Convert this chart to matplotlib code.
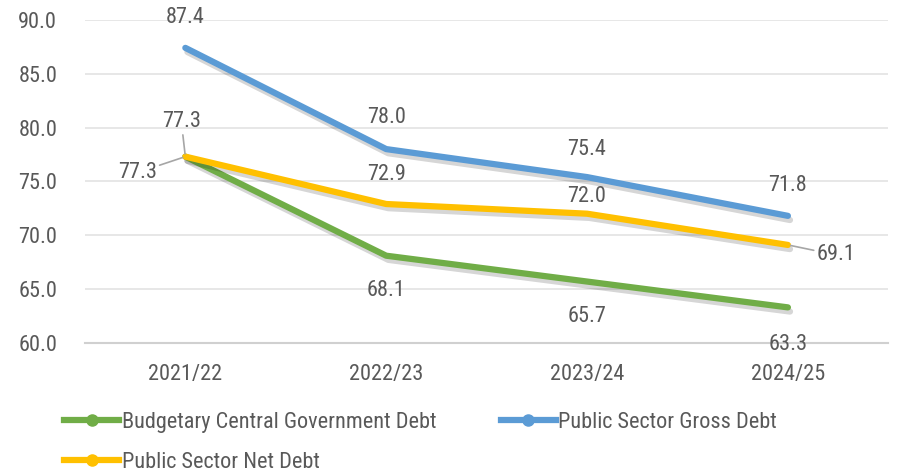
import matplotlib.pyplot as plt
import matplotlib.patheffects as pe
from matplotlib.lines import Line2D

# data
years = ["2021/22", "2022/23", "2023/24", "2024/25"]
bcg_debt = [77.3, 68.1, 65.7, 63.3]
gross_debt = [87.4, 78.0, 75.4, 71.8]
net_debt = [77.3, 72.9, 72.0, 69.1]
series_names = ["Budgetary Central Government Debt", "Public Sector Gross Debt", "Public Sector Net Debt"]

plt.rcParams['font.family'] = ["Roboto Condensed", 'DejaVu Sans']

GREEN = "#70AD47"
BLUE = "#5B9BD5"
YELLOW = "#FFC000"
TXT = "#595959"
FS = 16

fig = plt.figure(figsize=(9.13, 4.73), dpi=100)
ax = fig.add_axes([0.093, 0.275, 0.88, 0.683])

x = range(len(years))
shadow = [pe.SimpleLineShadow(offset=(1.5, -3), shadow_color="#000000", alpha=0.16), pe.Normal()]
for vals, col in [(bcg_debt, GREEN), (gross_debt, BLUE), (net_debt, YELLOW)]:
    ax.plot(x, vals, color=col, lw=4.5, solid_capstyle="round", solid_joinstyle="round",
            path_effects=shadow, zorder=3)

ax.set_xlim(-0.5, 3.5)
ax.set_ylim(60, 90)
ax.set_yticks([60, 65, 70, 75, 80, 85, 90])
ax.set_yticklabels([f"{v:.1f}" for v in [60, 65, 70, 75, 80, 85, 90]])
ax.set_xticks(list(x))
ax.set_xticklabels(years)
ax.tick_params(axis="both", length=0, labelsize=FS, colors=TXT)
ax.tick_params(axis="y", pad=20)
ax.tick_params(axis="x", pad=15)
ax.grid(axis="y", color="#E3E3E3", lw=1.2)
ax.set_axisbelow(True)
for s in ["top", "right", "left"]:
    ax.spines[s].set_visible(False)
ax.spines["bottom"].set_color("#D0D0D0")
ax.spines["bottom"].set_linewidth(1.5)


def lab(xi, yi, dx, dy, ha="center", arrow=False):
    kw = {}
    if arrow:
        kw["arrowprops"] = dict(arrowstyle="-", color="#A6A6A6", lw=1.2, shrinkA=0, shrinkB=2)
    ax.annotate(f"{yi:.1f}", (xi, yi), xytext=(dx, dy), textcoords="offset pixels",
                ha=ha, va="center", fontsize=FS, color=TXT, annotation_clip=False, **kw)


# blue labels above
lab(0, gross_debt[0], 0, 30)
lab(1, gross_debt[1], 0, 32)
lab(2, gross_debt[2], 0, 28)
lab(3, gross_debt[3], 0, 30)
# green labels below
lab(0, bcg_debt[0], -48, -16, arrow=True)
lab(1, bcg_debt[1], 0, -35)
lab(2, bcg_debt[2], 0, -35)
lab(3, bcg_debt[3], 0, -37)
# yellow labels
lab(0, net_debt[0], -4, 35, arrow=True)
lab(1, net_debt[1], 0, 30)
lab(2, net_debt[2], 0, 17)
lab(3, net_debt[3], 48, -10, arrow=True)

# legend: row 1 green, blue; row 2 yellow
handles = [Line2D([], [], color=c, lw=4.5, marker="o", markersize=8)
           for c in [GREEN, YELLOW, BLUE]]
labels = [series_names[0], series_names[2], series_names[1]]
leg = fig.legend(handles, labels, loc="upper left", bbox_to_anchor=(0.048, 0.172), ncol=2,
                 frameon=False, fontsize=FS, handlelength=2.5, handletextpad=0.1,
                 columnspacing=2.9, labelspacing=0.85)
for t in leg.get_texts():
    t.set_color(TXT)

fig.savefig("out.png", dpi=100)
